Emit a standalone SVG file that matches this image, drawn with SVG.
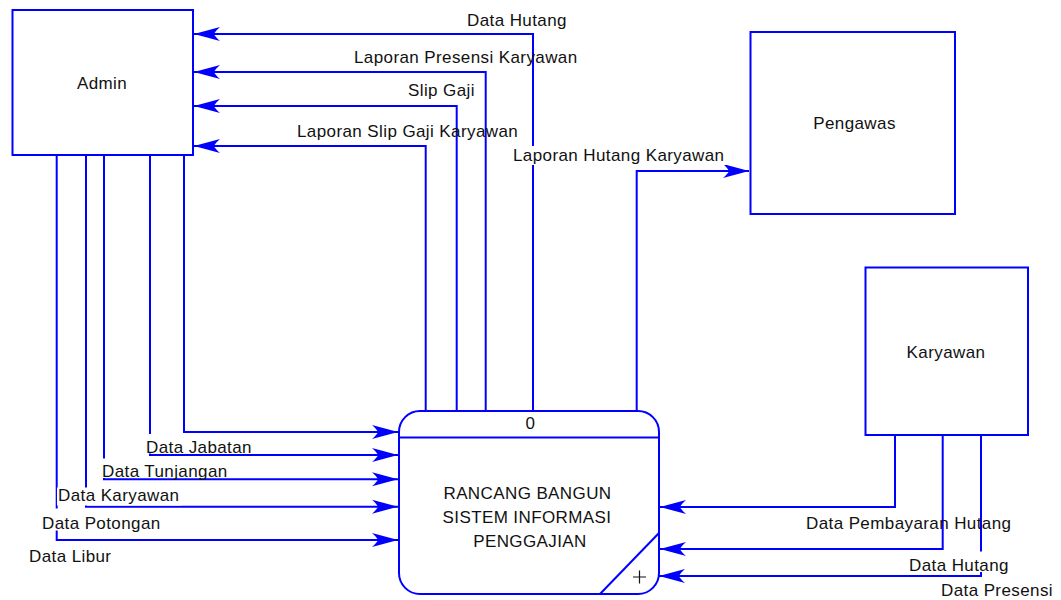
<svg xmlns="http://www.w3.org/2000/svg" width="1061" height="600" viewBox="0 0 1061 600">
<style>
.box{fill:#fff;stroke:#0000ff;stroke-width:2}
.flow{fill:none;stroke:#0000ff;stroke-width:2}
.t{font-family:"Liberation Sans",Arial,sans-serif;font-size:17px;fill:#111;letter-spacing:0.4px}
.c{text-anchor:middle}
.bg{fill:#fff;stroke:none}
</style>
<defs>
<marker id="arr" markerUnits="userSpaceOnUse" markerWidth="30" markerHeight="18" viewBox="-27 -9 28 18" refX="0" refY="0" orient="auto">
<path d="M0,0 L-26,-7 Q-21,-2.5 -20,0 Q-21,2.5 -26,7 Z" fill="#0000ff"/>
</marker>
</defs>
<g id="connectors">
<path class="flow" d="M533,411 V34 H194" marker-end="url(#arr)"/>
<path class="flow" d="M485.7,411 V72 H194" marker-end="url(#arr)"/>
<path class="flow" d="M456.7,411 V106 H194" marker-end="url(#arr)"/>
<path class="flow" d="M425.7,411 V146 H194" marker-end="url(#arr)"/>
<path class="flow" d="M636.7,411 V171 H749" marker-end="url(#arr)"/>
<path class="flow" d="M184,155 V432 H398" marker-end="url(#arr)"/>
<path class="flow" d="M150,155 V455 H398" marker-end="url(#arr)"/>
<path class="flow" d="M104,155 V479.3 H398" marker-end="url(#arr)"/>
<path class="flow" d="M86,155 V506.7 H398" marker-end="url(#arr)"/>
<path class="flow" d="M56.7,155 V540 H398" marker-end="url(#arr)"/>
<path class="flow" d="M895,435 V507 H660" marker-end="url(#arr)"/>
<path class="flow" d="M942.7,435 V549 H660" marker-end="url(#arr)"/>
<path class="flow" d="M981,435 V576 H659" marker-end="url(#arr)"/>
</g>
<g id="labels">
<text class="t" x="467" y="25.5">Data Hutang</text>
<text class="t" x="354" y="63.3">Laporan Presensi Karyawan</text>
<text class="t" x="408" y="96">Slip Gaji</text>
<text class="t" x="297" y="137.3">Laporan Slip Gaji Karyawan</text>
<rect class="bg" x="512" y="146" width="216" height="19"/>
<text class="t" x="513" y="160.7">Laporan Hutang Karyawan</text>
<rect class="bg" x="145" y="434" width="108" height="19.5"/>
<text class="t" x="146" y="453">Data Jabatan</text>
<rect class="bg" x="101" y="458.5" width="128" height="19.5"/>
<text class="t" x="102" y="476.7">Data Tunjangan</text>
<rect class="bg" x="57" y="487.5" width="124" height="18"/>
<text class="t" x="58" y="501">Data Karyawan</text>
<rect class="bg" x="41" y="508.5" width="120" height="22"/>
<text class="t" x="42" y="529.3">Data Potongan</text>
<text class="t" x="29" y="562.3">Data Libur</text>
<text class="t" x="806" y="529.3">Data Pembayaran Hutang</text>
<rect class="bg" x="908" y="551.5" width="101" height="20.5"/>
<text class="t" x="909" y="571">Data Hutang</text>
<text class="t" x="941" y="595.5">Data Presensi</text>
</g>
<g id="admin">
<rect class="box" x="12.5" y="10" width="180.5" height="145"/>
<text class="t c" x="102" y="89.3">Admin</text>
</g>
<g id="pengawas">
<rect class="box" x="750.5" y="32" width="204.5" height="182"/>
<text class="t c" x="854.5" y="129.3">Pengawas</text>
</g>
<g id="karyawan">
<rect class="box" x="865.5" y="267.5" width="162.5" height="167.5"/>
<text class="t c" x="946" y="358.3">Karyawan</text>
</g>
<g id="process">
<rect class="box" x="399" y="411" width="260" height="183" rx="21" ry="21"/>
<line class="flow" x1="399" y1="437.5" x2="659" y2="437.5"/>
<line class="flow" x1="659" y1="533" x2="600" y2="594"/>
<path d="M633,577 H646 M639.5,570.5 V583.5" stroke="#111" stroke-width="1.2" fill="none"/>
<text class="t c" x="530.5" y="429.3">0</text>
<text class="t c" x="527.5" y="499.3">RANCANG BANGUN</text>
<text class="t c" x="527" y="523.3">SISTEM INFORMASI</text>
<text class="t c" x="530" y="547.3">PENGGAJIAN</text>
</g>
</svg>
